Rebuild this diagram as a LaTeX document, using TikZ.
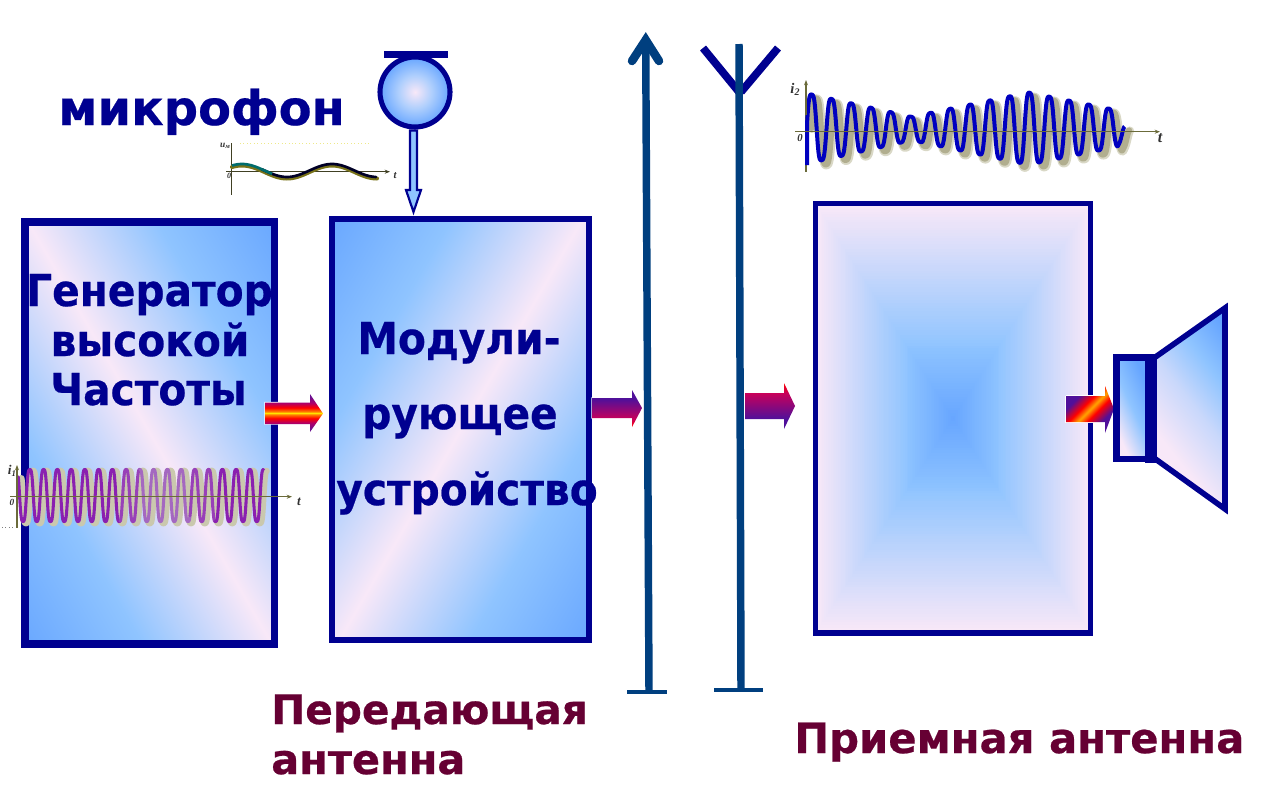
\documentclass[tikz,border=0pt]{standalone}
\usepackage{fontspec}
\setmainfont{DejaVu Sans}[BoldFeatures={FakeBold=0.5}]
\newfontfamily\lserif{Liberation Serif}
\newfontfamily\narrowsans{DejaVu Sans}[BoldFeatures={FakeBold=0.5,FakeStretch=0.925}]
\usetikzlibrary{arrows.meta}
\definecolor{navy}{HTML}{000090}
\definecolor{pole}{HTML}{003F7F}
\definecolor{wine}{HTML}{660033}
\definecolor{bA}{HTML}{66A5FF}
\definecolor{bB}{HTML}{8FC4FF}
\definecolor{pk}{HTML}{F8E8F8}
\definecolor{axisc}{HTML}{6B6B3A}
\definecolor{hpurple}{HTML}{6A1090}
\definecolor{hcrim}{HTML}{B00068}
\definecolor{apurple}{HTML}{50109A}
\definecolor{acrim}{HTML}{C8005A}
\pgfdeclarehorizontalshading{bluepink}{100bp}{color(0bp)=(bA);color(14bp)=(bA);color(32bp)=(bB);color(50bp)=(pk);color(68bp)=(bB);color(86bp)=(bA);color(100bp)=(bA)}
\pgfdeclarehorizontalshading{conegrad}{100bp}{color(0bp)=(pk);color(34bp)=(pk);color(52bp)=(bB!45!pk);color(66bp)=(bB);color(80bp)=(bA);color(100bp)=(bA)}
\pgfdeclarehorizontalshading{boxgrad}{100bp}{color(0bp)=(pk);color(28bp)=(pk);color(50bp)=(bB);color(72bp)=(bA);color(100bp)=(bA)}
\pgfdeclareradialshading{micgrad}{\pgfpoint{0bp}{0bp}}{color(0bp)=(pk);color(12bp)=(bB!70!pk);color(25bp)=(bA);color(50bp)=(bA)}
\pgfdeclareverticalshading{hotarrow}{100bp}{color(0bp)=(hpurple);color(29bp)=(hpurple);color(37bp)=(hcrim);color(43bp)=(red);color(48bp)=(orange);color(50bp)=(yellow!80!orange);color(52bp)=(orange);color(57bp)=(red);color(63bp)=(hcrim);color(71bp)=(hpurple);color(100bp)=(hpurple)}
\pgfdeclareverticalshading{purpcrim}{100bp}{color(0bp)=(apurple);color(36bp)=(apurple);color(64bp)=(acrim);color(75bp)=(red);color(100bp)=(red)}
\pgfdeclareverticalshading{crimpurp}{100bp}{color(0bp)=(red);color(25bp)=(red);color(36bp)=(acrim);color(63bp)=(apurple);color(100bp)=(apurple)}
\pgfdeclarehorizontalshading{diaghot}{100bp}{color(0bp)=(apurple);color(32bp)=(apurple);color(43bp)=(red);color(50bp)=(orange!70!yellow);color(57bp)=(red);color(68bp)=(apurple);color(100bp)=(apurple)}
\tikzset{
  declare function={flatc(\a)=(1.3*cos(\a)-0.4*cos(\a)*cos(\a)*cos(\a))/0.9;},
  boxedge/.style={draw=navy,line join=miter},
  bigtext/.style={font=\narrowsans\fontsize{33}{36}\selectfont\bfseries,text=navy,inner sep=0pt,anchor=base},
  captext/.style={font=\fontsize{30.5}{34}\bfseries,text=wine,inner sep=0pt,anchor=base west},
  mathlbl/.style={font=\lserif\bfseries\itshape\fontsize{10}{11}\selectfont,text=black!80,inner sep=0pt},
  axisline/.style={draw=axisc,line width=0.8pt,-{Stealth[length=4pt,width=3pt]}},
  polebar/.style={draw=pole,line width=5.6pt,line cap=butt},
  footbar/.style={draw=pole,line width=3.4pt},
  arrowedge/.style={draw=white,line width=0.9pt}
}
\begin{document}
\begin{tikzpicture}[x=0.75pt,y=-0.75pt]
\useasboundingbox (0,0) rectangle (1280,807);
\fill[white] (0,0) rectangle (1280,807);

% Generator box
\path[shading=bluepink,shading angle=30] (25,222) rectangle (274.5,644);
\draw[boxedge,line width=5.6pt] (25,222) rectangle (274.5,644);
% Modulator box
\path[shading=bluepink,shading angle=-30] (332,219) rectangle (589,640);
\draw[boxedge,line width=4.8pt] (332,219) rectangle (589,640);
% Receiver box (rectangular gradient)
\fill[pk] (815.5,203.5) rectangle (1090.5,633);
\foreach \k in {0,1,...,80}{
  \pgfmathsetmacro{\t}{\k/80}
  \pgfmathsetmacro{\hw}{137.5*(1-\t)}
  \pgfmathsetmacro{\hh}{214.75*(1-\t)}
  \pgfmathtruncatemacro{\mixA}{min(100,\t*150)}
  \pgfmathtruncatemacro{\mixB}{max(0,(\t-0.65)*285)}
  \fill[bA!\mixB!bB!\mixA!pk] ({953-\hw},{418.25-\hh}) rectangle ({953+\hw},{418.25+\hh});
}
\draw[boxedge,line width=4.2pt] (815.5,203.5) rectangle (1090.5,633);

% Microphone
\draw[navy,line width=5.2pt] (384,54.5) -- (448,54.5);
\path[shading=micgrad] (415,92) circle (35);
\draw[navy,line width=3.8pt] (415,92) circle (35);
\filldraw[fill=bB,draw=navy,line width=1.6pt,line join=miter] (410,130.5) -- (417,130.5) -- (417,190) -- (421,190) -- (413.5,212) -- (406,190) -- (410,190) -- cycle;

% Texts
\node[anchor=base west,font=\fontsize{36}{40}\bfseries,text=navy,inner sep=0pt] (micword) at (58,125) {микрофон};
\node[bigtext] (g1) at (149.5,306) {Генератор};
\node[bigtext] (g2) at (150,356) {высокой};
\node[bigtext] (g3) at (148.5,405) {Частоты};
\node[bigtext] (m1) at (459,354) {Модули-};
\node[bigtext] (m2) at (460,429) {рующее};
\node[bigtext] (m3) at (467,505) {устройство};
\node[captext] (c1) at (271,724) {Передающая};
\node[captext,font=\fontsize{31.1}{34}\bfseries] (c2) at (271,774) {антенна};
\node[captext,font=\fontsize{31.3}{34}\bfseries] (c3) at (794,753) {Приемная антенна};

% u_m graph
\draw[draw=black!15!yellow!50!white,dotted,line width=0.6pt] (240,143) -- (370,143);
\draw[axisc!60!black,line width=0.7pt] (231.7,143) -- (231.7,195);
\draw[axisline,draw=axisc!60!black] (226,171.7) -- (390,171.7);
\draw[olive!80!black,line width=3pt,line cap=round] plot[domain=232:377,samples=70,smooth] (\x,{172-6.5*cos((\x-332)/90*360)});
\draw[black!85!blue,line width=2pt,line cap=round] plot[domain=262:376,samples=50,smooth] (\x,{170.5-6.5*cos((\x-332)/90*360)});
\draw[teal!85!black,line width=2pt] plot[domain=232:272,samples=24,smooth] (\x,{170.5-6.5*cos((\x-332)/90*360)});
\node[mathlbl,font=\lserif\bfseries\itshape\fontsize{7}{8}\selectfont] (ulbl) at (225,146) {u\raisebox{-1pt}{\fontsize{5}{6}\selectfont м}};
\node[mathlbl,font=\lserif\bfseries\itshape\fontsize{6}{7}\selectfont] (uzero) at (229,176) {0};
\node[mathlbl,font=\lserif\bfseries\itshape\fontsize{8}{9}\selectfont] (ut) at (395,176) {t};

% i1 graph
\draw[draw=black!50,dotted,line width=0.6pt] (2,527) -- (17,527);
\draw[line width=5pt,draw=black!10!yellow!25!gray!60!white,line join=round,line cap=round] plot[domain=18.3:263.5,samples=600] ({\x+3},{497+26*flatc((\x-23)/13.75*360)});
\foreach \a/\b/\c in {18.3/120/8A20B0,120/140/9840B8,140/190/A468C0,190/215/9840B8,215/263.5/8A20B0}{
  \definecolor{wc}{HTML}{\c}
  \draw[wc,line width=2.3pt,line join=round,line cap=round] plot[domain=\a:\b,samples=200] (\x,{495.5+26*flatc((\x-23)/13.75*360)});
}
\draw[draw=axisc,line width=0.8pt,{Stealth[length=4pt,width=3pt]}-] (17,465) -- (17,528);
\draw[axisline] (10,496.7) -- (292,496.7);
\node[mathlbl] (ione) at (12,471) {i\raisebox{-1.5pt}{\fontsize{6.5}{7}\selectfont 1}};
\node[mathlbl,font=\lserif\bfseries\itshape\fontsize{7}{8}\selectfont] (izero) at (12,502) {0};
\node[mathlbl] (it) at (299,502) {t};

% i2 graph
\newcommand{\envwave}{min(max(35+(395-\x)*0.223,min(35+(\x-395)*0.209,108-(\x-745)*0.20)),(1040-\x)*2)*flatc((\x-95)/59.4*360)}
\draw[draw=axisc,line width=0.8pt] (806,115) -- (806,172);
\draw[line width=6.8pt,draw=black!8!yellow!22!gray!42!white,line join=round,line cap=round] plot[domain=81:1034,samples=800] ({785+\x/3},{133-(\envwave)/3});
\draw[line width=4.6pt,draw=black!20!yellow!28!gray!85!white,line join=round,line cap=round] plot[domain=81:1034,samples=800] ({784.5+\x/3},{132.5-(\envwave)/3});
\draw[line width=3pt,draw=blue!75!black,line join=round] (807,165) -- plot[domain=81:1034,samples=800] ({780+\x/3},{128.5-(\envwave)/3});
\draw[axisline] (795,131.7) -- (1160,131.7);
\draw[axisc,line width=0.8pt,-{Stealth[length=4pt,width=3pt]}] (806,115) -- (806,80);
\node[mathlbl,font=\lserif\bfseries\itshape\fontsize{11}{12}\selectfont] (itwo) at (795,89) {i\raisebox{-1.5pt}{\fontsize{7.5}{8}\selectfont 2}};
\node[mathlbl,font=\lserif\bfseries\itshape\fontsize{8}{9}\selectfont] (izero2) at (800,138) {0};
\node[mathlbl,font=\lserif\bfseries\itshape\fontsize{12}{13}\selectfont] (it2) at (1160,138) {t};

% Antennas
\draw[polebar] (645.7,40) -- (649,692);
\draw[pole,line width=6.4pt,line cap=round,line join=miter] (632,61) -- (645.7,40) -- (659,61);
\draw[footbar] (627,692) -- (667,692);
\draw[navy,line width=5.8pt] (703,48) -- (739,92);
\draw[navy,line width=5.8pt] (778,48) -- (741,92);
\draw[polebar] (739,44) -- (741,690);
\draw[footbar] (714,690) -- (763,690);

% Block arrows
\draw[arrowedge] (265,402.5) -- (310,402.5) -- (310,394) -- (323,413.5) -- (310,432) -- (310,424) -- (265,424) -- cycle;
\path[shading=hotarrow] (265,402.5) -- (310,402.5) -- (310,394) -- (323,413.5) -- (310,432) -- (310,424) -- (265,424) -- cycle;
\draw[arrowedge] (592,398) -- (632,398) -- (632,390) -- (642,408) -- (632,427) -- (632,418) -- (592,418) -- cycle;
\path[shading=crimpurp] (592,398) -- (632,398) -- (632,390) -- (642,408) -- (632,427) -- (632,418) -- (592,418) -- cycle;
\path[shading=purpcrim] (745,393) -- (784,393) -- (784,383) -- (795,406) -- (784,429) -- (784,419) -- (745,419) -- cycle;
\draw[arrowedge] (1066,396) -- (1105,396) (1105,422) -- (1066,422) -- (1066,396);
\path[shading=diaghot,shading angle=-45] (1066,396) -- (1105,396) -- (1105,386) -- (1114,409) -- (1105,433) -- (1105,422) -- (1066,422) -- cycle;

% Speaker
\path[shading=conegrad,shading angle=38] (1154,358) -- (1225,308) -- (1225,509) -- (1154,458) -- cycle;
\draw[boxedge,line width=4.2pt] (1154,358) -- (1225,308) -- (1225,509) -- (1154,458) -- cycle;
\path[shading=boxgrad,shading angle=25] (1116.5,357.5) rectangle (1148,459);
\draw[boxedge,line width=5.2pt] (1116.5,357.5) rectangle (1148.5,459);
\fill[navy] (1145,354) rectangle (1156.5,462.5);
\end{tikzpicture}
\end{document}
